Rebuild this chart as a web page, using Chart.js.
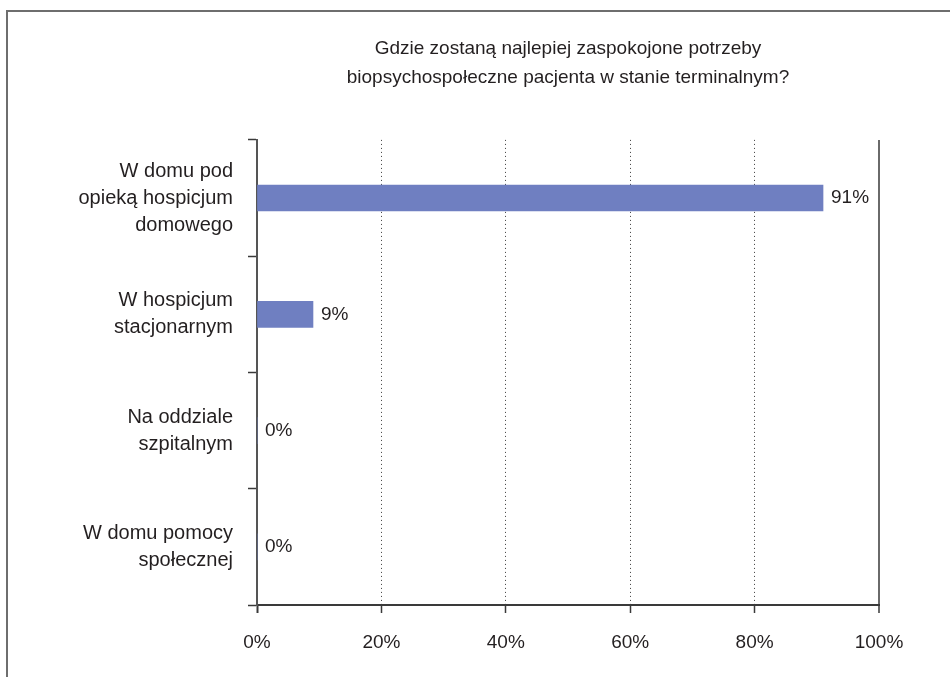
<!DOCTYPE html>
<html>
<head>
<meta charset="utf-8">
<script src="https://cdn.jsdelivr.net/npm/chart.js@4.4.1/dist/chart.umd.min.js"></script>
<style>
  html, body { margin: 0; padding: 0; background: #fff; overflow: hidden; }
  #wrap { position: relative; width: 950px; height: 677px; }
  #frame { position: absolute; left: 6px; top: 10px; width: 1000px; height: 1000px;
           border-left: 2px solid #6e6e6e; border-top: 2px solid #6e6e6e; pointer-events: none; }
  canvas { position: absolute; left: 0; top: 0; }
</style>
</head>
<body>
<div id="wrap">
  <canvas id="c" width="950" height="677"></canvas>
  <div id="frame"></div>
</div>
<script>
const titleLines = ['Gdzie zostaną najlepiej zaspokojone potrzeby', 'biopsychospołeczne pacjenta w stanie terminalnym?'];
const categories = [
  ['W domu pod', 'opieką hospicjum', 'domowego'],
  ['W hospicjum', 'stacjonarnym'],
  ['Na oddziale', 'szpitalnym'],
  ['W domu pomocy', 'społecznej']
];
const values = [91, 9, 0, 0];
const xTicks = [0, 20, 40, 60, 80, 100];

const FONT = '"Liberation Sans", Arial, sans-serif';
const TEXT = '#231f20';

const valueLabels = {
  id: 'valueLabels',
  afterDatasetsDraw(chart) {
    const ctx = chart.ctx;
    const meta = chart.getDatasetMeta(0);
    ctx.save();
    ctx.font = '19px ' + FONT;
    ctx.fillStyle = TEXT;
    ctx.textAlign = 'left';
    ctx.textBaseline = 'middle';
    meta.data.forEach((bar, i) => {
      ctx.fillText(values[i] + '%', bar.x + 8, bar.y);
    });
    ctx.restore();
  }
};

new Chart(document.getElementById('c'), {
  type: 'bar',
  data: {
    labels: categories,
    datasets: [{
      data: values,
      backgroundColor: '#6f7fc1',
      borderWidth: 0,
      barThickness: 26
    }]
  },
  options: {
    indexAxis: 'y',
    responsive: false,
    animation: false,
    layout: { padding: { left: 0, right: 71, top: 0, bottom: 0 } },
    plugins: {
      legend: { display: false },
      tooltip: { enabled: false },
      title: {
        display: true,
        fullSize: false,
        text: titleLines,
        color: TEXT,
        font: { family: FONT, size: 19, weight: 'normal', lineHeight: 1.55 },
        padding: { top: 34, bottom: 47 }
      }
    },
    scales: {
      x: {
        type: 'linear',
        min: 0,
        max: 100,
        afterBuildTicks: (s) => { s.ticks = xTicks.map(v => ({ value: v })); },
        afterFit: (s) => { s.height = 72; },
        ticks: {
          callback: (v) => v + '%',
          color: TEXT,
          font: { family: FONT, size: 19 },
          padding: 18,
          maxRotation: 0
        },
        grid: {
          display: true,
          drawOnChartArea: true,
          drawTicks: true,
          tickLength: 8,
          color: (c) => (c.tick && c.tick.value === 100) ? '#6a6a6a' : '#3a3a3a',
          tickColor: (c) => (c.tick && c.tick.value === 100) ? '#6a6a6a' : '#3a3a3a',
          tickWidth: (c) => (c.tick && (c.tick.value === 100 || c.tick.value === 0)) ? 2 : 1.5,
          lineWidth: (c) => (c.tick && c.tick.value === 100) ? 2 : 1,
          tickBorderDash: []
        },
        border: {
          display: true,
          color: '#3a3a3a',
          width: 2,
          dash: (c) => (c.tick && c.tick.value > 0 && c.tick.value < 100) ? [1, 3] : []
        }
      },
      y: {
        afterFit: (s) => { s.width = 257; },
        ticks: {
          color: TEXT,
          font: { family: FONT, size: 20, lineHeight: 1.35 },
          padding: 15
        },
        grid: {
          display: true,
          offset: true,
          drawOnChartArea: false,
          drawTicks: true,
          tickLength: 9,
          tickColor: '#3a3a3a',
          tickWidth: 1.5
        },
        border: { display: true, color: '#555555', width: 2 }
      }
    }
  },
  plugins: [valueLabels]
});
</script>
</body>
</html>
